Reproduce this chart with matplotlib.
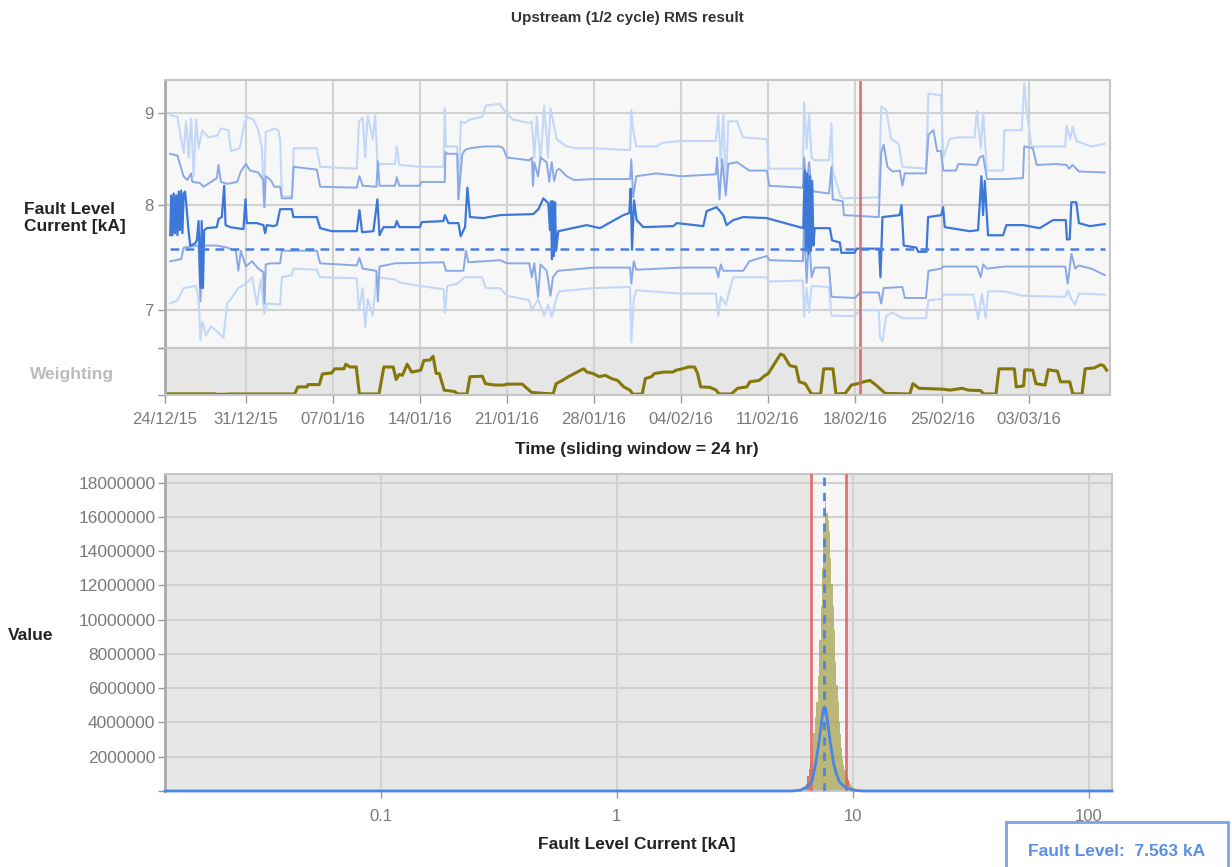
import matplotlib
matplotlib.use("Agg")
import matplotlib.pyplot as plt
from matplotlib.patches import Rectangle
from matplotlib.ticker import NullLocator

plt.rcParams['font.family'] = ['Liberation Sans', 'DejaVu Sans']

# ---------------- data ----------------
fault_level = 7.563          # kA
lower_limit = 6.63           # kA
upper_limit = 9.34           # kA
marker_day = 56.38           # days after 24/12/15

date_ticks = [0.5, 7, 14, 21, 28, 35, 42, 49, 56, 63, 70]
date_labels = ['24/12/15', '31/12/15', '07/01/16', '14/01/16', '21/01/16', '28/01/16',
               '04/02/16', '11/02/16', '18/02/16', '25/02/16', '03/03/16']
level_ticks = [7, 8, 9]
level_labels = ['7', '8', '9']

# (day, kA) sliding-window statistics
median_pts = [(0.92, 7.70), (1.0, 8.10), (1.1, 7.70), (1.2, 8.12), (1.3, 7.72), (1.4, 8.10), (1.5, 7.70),
              (1.6, 8.14), (1.7, 7.75), (1.8, 8.15), (1.9, 7.72), (2.0, 8.12), (2.12, 8.14), (2.39, 7.75),
              (2.53, 7.60), (2.93, 7.62), (3.06, 7.65), (3.2, 7.84), (3.35, 7.20), (3.45, 7.84), (3.55, 7.20),
              (3.65, 7.75), (3.87, 7.77), (4.67, 7.78), (4.8, 7.86), (5.07, 7.88), (5.26, 8.20), (5.37, 7.80),
              (5.74, 7.78), (6.81, 7.76), (6.97, 8.06), (7.08, 7.82), (7.88, 7.82), (8.42, 7.80), (8.55, 7.72),
              (8.69, 7.80), (9.22, 7.79), (9.49, 7.80), (9.76, 7.96), (10.7, 7.96), (10.83, 7.88), (12.71, 7.88),
              (12.98, 7.77), (13.91, 7.74), (15.92, 7.74), (16.14, 7.95), (16.35, 7.73), (17.26, 7.74),
              (17.58, 8.06), (17.75, 7.70), (18.07, 7.78), (19.0, 7.78), (19.14, 7.84), (19.35, 7.78),
              (21.01, 7.78), (21.15, 7.83), (22.89, 7.84), (23.02, 7.90), (23.29, 7.82), (24.1, 7.82),
              (24.28, 7.69), (24.63, 7.78), (24.82, 8.18), (25.03, 7.88), (26.1, 7.87), (27.45, 7.90),
              (30.12, 7.91), (30.53, 7.96), (30.93, 8.07), (31.33, 8.02), (31.46, 7.75), (31.54, 8.04),
              (31.62, 7.47), (31.7, 8.04), (31.78, 7.50), (31.87, 8.03), (31.95, 7.55), (32.13, 7.74),
              (34.41, 7.80), (35.48, 7.77), (37.36, 7.90), (37.84, 7.92), (37.95, 8.17), (38.06, 7.56),
              (38.22, 8.05), (38.43, 7.85), (38.97, 7.78), (41.38, 7.79), (41.65, 7.82), (43.79, 7.79),
              (44.06, 7.94), (44.86, 7.98), (45.4, 7.90), (45.66, 7.80), (46.2, 7.85), (47.0, 7.88),
              (48.88, 7.87), (51.83, 7.77), (51.95, 8.36), (52.05, 7.55), (52.15, 8.33), (52.25, 7.52),
              (52.35, 8.30), (52.45, 7.55), (52.55, 8.25), (52.65, 7.60), (52.75, 7.77), (53.97, 7.77),
              (54.15, 7.65), (54.77, 7.63), (54.9, 7.53), (55.97, 7.53), (56.1, 7.57), (57.93, 7.57),
              (58.04, 7.30), (58.2, 7.88), (59.59, 7.90), (59.73, 8.00), (59.91, 7.60), (60.93, 7.58),
              (61.07, 7.54), (61.74, 7.54), (61.87, 7.88), (62.94, 7.90), (63.08, 7.98), (63.21, 7.78),
              (65.22, 7.74), (65.89, 7.75), (66.16, 8.30), (66.29, 7.90), (66.43, 8.25), (66.69, 7.70),
              (67.9, 7.70), (68.17, 7.80), (69.51, 7.80), (70.85, 7.77), (71.92, 7.85), (72.94, 7.85),
              (73.04, 7.66), (73.26, 7.66), (73.39, 8.03), (73.79, 8.03), (74.0, 7.82), (74.87, 7.79),
              (76.07, 7.81)]

upper_inner_pts = [(0.92, 8.54), (1.5, 8.52), (1.99, 8.30), (2.3, 8.26), (2.6, 8.33), (2.7, 8.24), (3.3, 8.23),
                   (3.6, 8.19), (4.2, 8.24), (4.67, 8.28), (4.8, 8.42), (5.0, 8.24), (5.5, 8.22), (6.3, 8.24),
                   (6.6, 8.35), (7.0, 8.43), (7.35, 8.36), (8.0, 8.34), (8.4, 8.26), (8.5, 7.98), (8.6, 8.30),
                   (9.0, 8.26), (9.3, 8.19), (9.76, 8.19), (9.9, 8.07), (10.7, 8.07), (10.85, 8.40),
                   (12.71, 8.37), (12.98, 8.19), (15.92, 8.18), (16.14, 8.30), (16.4, 8.20), (17.5, 8.19),
                   (17.62, 8.46), (17.75, 8.20), (19.0, 8.20), (19.14, 8.29), (19.35, 8.20), (21.0, 8.20),
                   (21.1, 8.24), (23.0, 8.24), (23.05, 8.56), (23.2, 8.54), (24.0, 8.54), (24.1, 8.06),
                   (24.4, 8.53), (24.6, 8.58), (25.0, 8.60), (26.1, 8.62), (27.45, 8.62), (27.7, 8.60),
                   (28.0, 8.50), (29.8, 8.47), (30.0, 8.50), (30.1, 8.20), (30.2, 8.45), (30.5, 8.30),
                   (30.7, 8.50), (31.2, 8.45), (31.4, 8.24), (31.6, 8.45), (31.8, 8.25), (32.0, 8.36),
                   (32.2, 8.38), (32.8, 8.30), (33.4, 8.26), (35.0, 8.27), (37.9, 8.27), (38.0, 8.48),
                   (38.15, 8.08), (38.4, 8.30), (40.0, 8.33), (42.0, 8.30), (44.8, 8.32), (44.9, 8.50),
                   (45.1, 8.06), (45.3, 8.48), (45.6, 8.10), (45.8, 8.43), (46.5, 8.45), (47.5, 8.36),
                   (48.9, 8.36), (49.1, 8.20), (51.8, 8.18), (51.9, 8.50), (52.1, 8.20), (52.3, 8.45),
                   (52.5, 8.15), (52.75, 8.14), (53.9, 8.12), (54.1, 8.40), (54.2, 8.06), (55.0, 8.04),
                   (55.1, 7.90), (57.9, 7.88), (58.1, 8.55), (58.3, 8.64), (58.6, 8.40), (59.0, 8.35),
                   (59.6, 8.36), (59.8, 8.20), (60.0, 8.33), (61.7, 8.33), (61.9, 8.75), (62.3, 8.80),
                   (62.6, 8.57), (62.9, 8.57), (63.1, 8.36), (64.1, 8.36), (64.3, 8.43), (65.8, 8.42),
                   (66.0, 8.50), (66.3, 8.52), (66.6, 8.27), (68.0, 8.27), (69.5, 8.28), (69.6, 8.62),
                   (70.3, 8.60), (70.6, 8.42), (72.2, 8.43), (73.0, 8.42), (73.2, 8.38), (73.5, 8.42),
                   (74.0, 8.35), (76.07, 8.34)]

upper_outer_pts = [(0.92, 8.97), (1.5, 8.95), (1.8, 8.70), (2.0, 8.55), (2.2, 8.90), (2.4, 8.50), (2.6, 8.93),
                   (2.8, 8.30), (3.0, 8.92), (3.2, 8.60), (3.5, 8.80), (4.0, 8.72), (4.7, 8.74), (5.0, 8.82),
                   (5.6, 8.80), (5.8, 8.57), (6.5, 8.60), (6.9, 8.88), (7.1, 8.95), (7.6, 8.92), (8.0, 8.80),
                   (8.3, 8.60), (8.45, 7.98), (8.6, 8.78), (9.0, 8.80), (9.3, 8.82), (9.6, 8.80), (9.76, 8.70),
                   (9.9, 8.09), (10.7, 8.09), (10.85, 8.60), (12.71, 8.60), (12.98, 8.40), (15.92, 8.38),
                   (16.1, 8.90), (16.4, 8.94), (16.6, 8.50), (16.8, 8.96), (17.2, 8.70), (17.4, 8.97),
                   (17.6, 8.40), (17.8, 8.43), (19.0, 8.43), (19.14, 8.62), (19.35, 8.42), (21.0, 8.40),
                   (22.9, 8.40), (23.0, 9.05), (23.1, 8.62), (24.0, 8.62), (24.1, 8.06), (24.3, 8.90),
                   (24.6, 8.88), (25.0, 8.92), (26.0, 8.95), (26.3, 9.08), (27.45, 9.10), (27.5, 9.08),
                   (28.0, 8.98), (28.5, 8.92), (29.8, 8.88), (30.0, 8.90), (30.2, 8.50), (30.4, 8.95),
                   (30.7, 8.45), (31.0, 9.08), (31.3, 8.50), (31.5, 9.05), (32.0, 8.70), (32.8, 8.62),
                   (33.5, 8.60), (35.0, 8.60), (37.9, 8.58), (38.0, 9.03), (38.15, 8.80), (38.4, 8.62),
                   (40.0, 8.62), (40.5, 8.66), (42.0, 8.68), (44.8, 8.68), (45.0, 8.97), (45.2, 8.45),
                   (45.4, 8.98), (45.6, 8.20), (45.8, 8.90), (46.5, 8.90), (47.0, 8.72), (48.9, 8.70),
                   (49.1, 8.38), (51.8, 8.38), (51.9, 9.12), (52.1, 8.60), (52.3, 9.00), (52.5, 8.50),
                   (52.75, 8.47), (53.9, 8.47), (54.1, 8.88), (54.2, 8.36), (54.8, 8.10), (55.0, 8.07),
                   (57.9, 8.08), (58.1, 9.07), (58.5, 9.03), (58.9, 8.70), (59.5, 8.65), (59.8, 8.40),
                   (61.7, 8.38), (61.9, 9.22), (62.9, 9.20), (63.1, 8.50), (63.6, 8.70), (64.2, 8.72),
                   (65.6, 8.72), (65.8, 9.02), (66.1, 8.60), (66.3, 9.00), (66.6, 8.36), (67.9, 8.36),
                   (68.0, 8.80), (69.4, 8.80), (69.6, 9.34), (69.8, 9.00), (70.2, 8.62), (72.9, 8.62),
                   (73.0, 8.85), (73.3, 8.70), (73.5, 8.84), (73.8, 8.68), (75.0, 8.62), (76.07, 8.65)]

lower_inner_pts = [(0.92, 7.45), (1.8, 7.47), (2.0, 7.58), (3.2, 7.60), (3.35, 7.08), (3.5, 7.55), (3.7, 7.60),
                   (4.67, 7.60), (5.5, 7.58), (6.2, 7.55), (6.4, 7.36), (6.6, 7.55), (7.0, 7.40), (7.5, 7.45),
                   (8.0, 7.38), (8.4, 7.35), (8.5, 7.06), (8.6, 7.42), (9.0, 7.43), (9.76, 7.43), (9.9, 7.55),
                   (12.71, 7.55), (12.98, 7.43), (15.92, 7.41), (16.14, 7.48), (16.4, 7.38), (17.5, 7.36),
                   (17.62, 7.08), (17.75, 7.40), (19.0, 7.43), (22.9, 7.44), (23.1, 7.36), (24.5, 7.36),
                   (24.7, 7.55), (24.9, 7.44), (27.45, 7.46), (28.0, 7.43), (29.8, 7.43), (30.0, 7.30),
                   (30.2, 7.43), (30.5, 7.12), (30.7, 7.42), (31.2, 7.36), (31.5, 7.13), (31.7, 7.30),
                   (32.1, 7.36), (35.0, 7.39), (37.9, 7.39), (38.0, 7.24), (38.2, 7.45), (38.4, 7.37),
                   (42.0, 7.39), (44.8, 7.39), (45.0, 7.30), (45.2, 7.42), (45.4, 7.36), (47.0, 7.36),
                   (47.5, 7.45), (48.9, 7.50), (49.1, 7.46), (51.8, 7.45), (51.9, 7.82), (52.1, 7.25),
                   (52.3, 7.70), (52.5, 7.30), (52.75, 7.39), (53.9, 7.39), (54.1, 7.12), (56.0, 7.11),
                   (56.4, 7.16), (57.9, 7.16), (58.1, 7.06), (58.3, 7.20), (59.8, 7.21), (60.0, 7.11),
                   (61.7, 7.11), (61.9, 7.36), (62.9, 7.38), (63.1, 7.40), (65.8, 7.40), (66.1, 7.30),
                   (66.3, 7.42), (66.6, 7.38), (68.0, 7.40), (72.9, 7.40), (73.1, 7.24), (73.4, 7.52),
                   (73.7, 7.38), (74.0, 7.41), (75.0, 7.38), (76.07, 7.32)]

lower_outer_pts = [(0.92, 7.06), (1.5, 7.09), (2.0, 7.20), (3.0, 7.22), (3.2, 7.10), (3.35, 6.74), (3.5, 6.90),
                   (3.8, 6.78), (4.2, 6.86), (4.6, 6.82), (5.2, 6.76), (5.5, 7.06), (5.8, 7.10), (6.4, 7.20),
                   (7.0, 7.24), (7.5, 7.30), (7.9, 7.05), (8.2, 7.28), (8.5, 6.97), (8.7, 7.06), (9.76, 7.05),
                   (9.9, 7.30), (10.7, 7.32), (10.85, 7.38), (12.71, 7.37), (12.98, 7.30), (15.92, 7.29),
                   (16.1, 7.00), (16.4, 7.20), (16.6, 6.85), (16.8, 7.10), (17.2, 6.95), (17.5, 7.30),
                   (19.0, 7.28), (19.4, 7.25), (21.0, 7.22), (22.9, 7.19), (23.02, 6.98), (23.2, 7.22),
                   (24.0, 7.24), (24.6, 7.30), (26.0, 7.30), (26.3, 7.20), (27.45, 7.20), (28.0, 7.13),
                   (29.8, 7.09), (30.0, 7.00), (30.5, 7.10), (31.0, 6.95), (31.3, 7.05), (31.6, 6.94),
                   (32.0, 7.12), (32.2, 7.17), (35.0, 7.20), (37.9, 7.21), (38.0, 6.72), (38.2, 7.10),
                   (38.4, 7.18), (42.0, 7.15), (44.8, 7.15), (45.0, 6.95), (45.2, 7.12), (45.6, 7.05),
                   (46.2, 7.30), (48.9, 7.30), (49.1, 7.26), (51.8, 7.27), (51.9, 6.94), (52.1, 7.20),
                   (52.3, 6.98), (52.5, 7.22), (53.9, 7.21), (54.1, 6.95), (56.0, 6.95), (56.4, 7.00),
                   (57.9, 7.00), (58.0, 6.76), (58.2, 6.73), (58.5, 6.95), (59.0, 6.98), (59.8, 6.93),
                   (61.7, 6.93), (61.9, 7.09), (62.9, 7.10), (63.1, 7.14), (65.5, 7.14), (65.9, 6.92),
                   (66.2, 7.15), (66.5, 6.93), (66.7, 7.17), (68.0, 7.17), (69.5, 7.13), (72.9, 7.12),
                   (73.1, 7.18), (73.4, 7.10), (73.7, 7.05), (74.0, 7.15), (76.07, 7.14)]

# (day, relative weight)
weighting_pts = [(0.79, 0.01), (4.5, 0.01), (4.55, 0.0), (5.49, 0.0), (5.55, 0.007), (10.93, 0.007),
                 (11.18, 0.16), (11.92, 0.16), (12.0, 0.21), (12.91, 0.21), (13.16, 0.44), (13.9, 0.46),
                 (14.15, 0.55), (14.89, 0.55), (15.04, 0.65), (15.38, 0.59), (15.88, 0.59), (16.13, 0.007),
                 (17.71, 0.007), (18.1, 0.59), (18.85, 0.59), (19.09, 0.32), (19.34, 0.43), (19.59, 0.41),
                 (19.98, 0.65), (20.33, 0.48), (21.07, 0.52), (21.32, 0.73), (21.81, 0.74), (22.06, 0.82),
                 (22.31, 0.45), (22.56, 0.45), (22.95, 0.09), (23.79, 0.06), (24.04, 0.007), (24.78, 0.007),
                 (25.03, 0.38), (26.02, 0.39), (26.27, 0.23), (27.01, 0.2), (27.75, 0.2), (28.0, 0.22),
                 (29.23, 0.22), (29.48, 0.16), (29.98, 0.04), (31.71, 0.007), (31.96, 0.23), (32.45, 0.3),
                 (32.94, 0.38), (33.44, 0.45), (33.93, 0.52), (34.18, 0.55), (34.43, 0.48), (34.92, 0.45),
                 (35.42, 0.38), (35.91, 0.41), (36.41, 0.34), (36.9, 0.3), (37.4, 0.16), (37.89, 0.09),
                 (38.14, 0.0), (38.88, 0.007), (39.13, 0.34), (39.62, 0.38), (39.87, 0.45), (40.61, 0.48),
                 (41.35, 0.48), (41.6, 0.52), (42.1, 0.55), (42.59, 0.59), (43.09, 0.59), (43.33, 0.45),
                 (43.58, 0.16), (44.32, 0.15), (44.82, 0.09), (45.06, 0.007), (46.05, 0.007), (46.55, 0.13),
                 (47.29, 0.16), (47.54, 0.27), (48.28, 0.3), (48.77, 0.41), (49.02, 0.45), (49.52, 0.66),
                 (50.01, 0.87), (50.26, 0.84), (50.75, 0.62), (51.25, 0.59), (51.5, 0.27), (51.99, 0.23),
                 (52.49, 0.007), (53.23, 0.007), (53.48, 0.55), (54.22, 0.55), (54.46, 0.007), (55.21, 0.02),
                 (55.7, 0.2), (56.2, 0.23), (56.69, 0.27), (57.19, 0.3), (57.68, 0.2), (58.42, 0.02),
                 (60.4, 0.007), (60.65, 0.23), (61.14, 0.13), (63.12, 0.11), (63.62, 0.09), (64.6, 0.13),
                 (65.1, 0.09), (66.09, 0.08), (66.34, 0.007), (67.33, 0.007), (67.57, 0.55), (68.81, 0.55),
                 (68.96, 0.16), (69.55, 0.18), (69.65, 0.53), (70.29, 0.52), (70.54, 0.23), (71.28, 0.2),
                 (71.53, 0.53), (72.27, 0.5), (72.52, 0.27), (73.26, 0.27), (73.51, 0.007), (74.25, 0.007),
                 (74.5, 0.55), (75.24, 0.57), (75.74, 0.64), (75.98, 0.62), (76.23, 0.52)]

# histogram of fault level current: bins of 0.1 kA starting at 6.0 kA
hist_start = 6.0
hist_width = 0.1
hist_counts = [0.05e6, 0.1e6, 0.2e6, 0.4e6, 0.9e6, 1.3e6, 1.7e6, 2.4e6, 3.4e6, 4.3e6,
               5.2e6, 6.7e6, 8.8e6, 10.8e6, 13.0e6, 15.3e6, 16.8e6, 16.2e6, 15.8e6, 15.2e6,
               13.6e6, 12.1e6, 10.8e6, 9.4e6, 7.5e6, 6.2e6, 5.2e6, 4.0e6, 3.3e6, 2.5e6,
               1.9e6, 1.5e6, 1.2e6, 1.0e6, 0.8e6, 0.65e6, 0.5e6, 0.4e6, 0.32e6, 0.26e6,
               0.2e6, 0.16e6, 0.13e6, 0.1e6, 0.08e6, 0.06e6, 0.05e6, 0.04e6, 0.03e6, 0.02e6,
               0.015e6, 0.01e6, 0.008e6, 0.005e6, 0.004e6]

# fitted distribution curve
fit_kA = [0.0122, 5.5, 6.0, 6.4, 6.7, 6.95, 7.15, 7.3, 7.4, 7.5, 7.563, 7.65, 7.75, 7.85,
          8.0, 8.25, 8.5, 8.8, 9.3, 10.0, 11.0, 125.0]
fit_value = [0, 0, 0.05e6, 0.25e6, 0.55e6, 1.6e6, 2.7e6, 3.6e6, 4.3e6, 4.8e6, 4.9e6, 4.8e6,
             4.35e6, 3.8e6, 2.9e6, 1.7e6, 1.0e6, 0.5e6, 0.2e6, 0.05e6, 0, 0]

hist_xticks = [0.1, 1, 10, 100]
hist_xlabels = ['0.1', '1', '10', '100']
hist_yticks = [0, 2e6, 4e6, 6e6, 8e6, 10e6, 12e6, 14e6, 16e6, 18e6]
hist_ylabels = ['', '2000000', '4000000', '6000000', '8000000', '10000000',
                '12000000', '14000000', '16000000', '18000000']

# ---------------- styling ----------------
W, H = 1232, 867
TICK_COLOR = '#7a7a7a'
GRID_COLOR = '#d2d2d2'
SPINE_COLOR = '#c6c6c6'
BLUE_DARK = '#3d78d8'
BLUE_MID = '#8aa9e6'
BLUE_LIGHT = '#c3d7f7'
RED = '#e06666'
OLIVE = '#857808'
HIST_OLIVE = '#a6a24f'
HIST_RED = '#d46a6a'


def style_axes(a):
    for sp in a.spines.values():
        sp.set_color(SPINE_COLOR)
        sp.set_linewidth(1.5)
    a.spines['left'].set_color('#a9a9a9')
    a.spines['left'].set_linewidth(2)
    a.tick_params(colors='#999999', labelcolor=TICK_COLOR, labelsize=12, length=5, width=1)
    a.set_axisbelow(True)


fig = plt.figure(figsize=(W / 100, H / 100), dpi=100)
fig.patch.set_facecolor('white')

ax = fig.add_axes([165 / W, 1 - 348 / H, 945 / W, 268 / H])
axw = fig.add_axes([165 / W, 1 - 395 / H, 945 / W, 47 / H], sharex=ax)
axh = fig.add_axes([165 / W, 1 - 791 / H, 947 / W, 317 / H])

# ---- top panel: fault level over time ----
style_axes(ax)
ax.set_facecolor('#f7f7f7')
ax.set_yscale('log')
ax.set_ylim(6.672, 9.38)
ax.yaxis.set_minor_locator(NullLocator())
ax.set_yticks(level_ticks + [6.672])
ax.set_yticklabels(level_labels + [''])
ax.set_xlim(0.5, 76.5)
ax.set_xticks(date_ticks)
ax.tick_params(axis='x', length=0, labelbottom=False)
ax.grid(True, color=GRID_COLOR, linewidth=1.5)

for pts, color, lw in [(upper_outer_pts, BLUE_LIGHT, 1.5), (lower_outer_pts, BLUE_LIGHT, 1.5),
                       (upper_inner_pts, BLUE_MID, 1.4), (lower_inner_pts, BLUE_MID, 1.4),
                       (median_pts, BLUE_DARK, 1.6)]:
    d, v = zip(*pts)
    ax.plot(d, v, color=color, linewidth=lw)

ax.hlines(fault_level, median_pts[0][0], median_pts[-1][0], colors='#4a7fde',
          linestyles=(0, (3.5, 2.5)), linewidth=1.8)
ax.axvline(marker_day, color=RED, linewidth=2, alpha=0.9)

# ---- weighting strip ----
style_axes(axw)
axw.set_facecolor('#e6e6e6')
axw.set_ylim(-0.015, 1.0)
axw.set_yticks([-0.015, 1.0])
axw.set_yticklabels(['', ''])
axw.set_xticks(date_ticks)
axw.set_xticklabels(date_labels)
axw.tick_params(axis='x', length=6, pad=6.5)
axw.grid(True, axis='x', color=GRID_COLOR, linewidth=1.5)
wd, wv = zip(*weighting_pts)
axw.plot(wd, wv, color=OLIVE, linewidth=2.2)
axw.axvline(marker_day, color=RED, linewidth=2, alpha=0.9)

# ---- bottom panel: distribution ----
style_axes(axh)
axh.set_facecolor('#e7e7e7')
axh.set_xscale('log')
axh.set_xlim(0.0122, 125)
axh.set_ylim(0, 18.5e6)
axh.xaxis.set_minor_locator(NullLocator())
axh.set_xticks(hist_xticks)
axh.set_xticklabels(hist_xlabels)
axh.set_yticks(hist_yticks)
axh.set_yticklabels(hist_ylabels)
axh.tick_params(axis='y', labelsize=12.5, pad=2)
axh.tick_params(axis='x', pad=8)
axh.grid(True, color=GRID_COLOR, linewidth=1.5)
axh.axvspan(lower_limit, upper_limit, color='#f6f6f6', zorder=0.3, linewidth=0)

bin_edges = [hist_start + i * hist_width for i in range(len(hist_counts) + 1)]
axh.stairs(hist_counts, bin_edges, fill=True, color=HIST_OLIVE, alpha=0.75, linewidth=0, zorder=2)
# bins just beyond the limits are highlighted in red
for i, count in enumerate(hist_counts):
    centre = bin_edges[i] + hist_width / 2
    if (lower_limit - 0.3 < centre < lower_limit) or (upper_limit < centre < upper_limit + 0.3):
        axh.stairs([count], bin_edges[i:i + 2], fill=True, color=HIST_RED, alpha=0.75,
                   linewidth=0, zorder=2.1)

axh.axvline(lower_limit, color=RED, linewidth=2, alpha=0.9, zorder=3)
axh.axvline(upper_limit, color=RED, linewidth=2, alpha=0.9, zorder=3)
axh.axvline(fault_level, color='#4a86e8', linewidth=2, linestyle=(0, (3, 2.5)), zorder=4)
axh.plot(fit_kA, fit_value, color='#4a86e8', linewidth=2, zorder=5, clip_on=False)

# ---- text ----
fig.text(627 / W, 1 - 18 / H, 'Upstream (1/2 cycle) RMS result', ha='center', va='center',
         fontsize=11, fontweight='bold', color='#333333')
fig.text(24 / W, 1 - 218 / H, 'Fault Level\nCurrent [kA]', ha='left', va='center',
         fontsize=12.5, fontweight='bold', color='#222222', linespacing=1.2)
fig.text(30 / W, 1 - 375 / H, 'Weighting', ha='left', va='center',
         fontsize=12.5, fontweight='bold', color='#bbbbbb')
fig.text(637 / W, 1 - 450 / H, 'Time (sliding window = 24 hr)', ha='center', va='center',
         fontsize=12.5, fontweight='bold', color='#222222')
fig.text(8 / W, 1 - 635 / H, 'Value', ha='left', va='center',
         fontsize=12.5, fontweight='bold', color='#222222')
fig.text(637 / W, 1 - 845 / H, 'Fault Level Current [kA]', ha='center', va='center',
         fontsize=12.5, fontweight='bold', color='#222222')

# fault level read-out box
fig.add_artist(Rectangle((1006 / W, -0.02), (1228 - 1006) / W, (867 - 822) / H + 0.02,
                         transform=fig.transFigure, facecolor='white', edgecolor='#7aa3ea',
                         linewidth=2))
fig.text(1117 / W, 1 - 852 / H, f'Fault Level:  {fault_level:.3f} kA', ha='center', va='center',
         fontsize=12.5, fontweight='bold', color='#5b8ee6')

fig.savefig('out.png', dpi=100)
